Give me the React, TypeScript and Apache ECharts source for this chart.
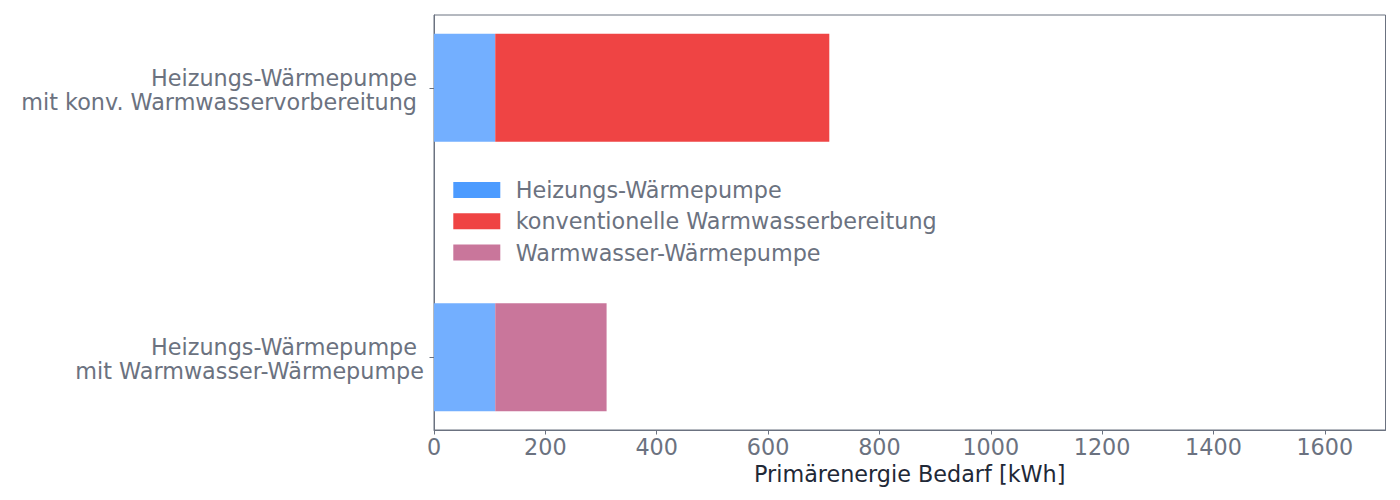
import React, { useEffect, useRef } from "react";
import * as echarts from "echarts";

// bottom-to-top order of the y axis
const categories: string[][] = [
  ["Heizungs-Wärmepumpe", "mit Warmwasser-Wärmepumpe"],
  ["Heizungs-Wärmepumpe", "mit konv. Warmwasservorbereitung"],
];
const heatPump = [110, 110];
const conventional = [0, 600];
const waterHeatPump = [200, 0];
const seriesNames = [
  "Heizungs-Wärmepumpe",
  "konventionelle Warmwasserbereitung",
  "Warmwasser-Wärmepumpe",
];
const xTicks = [0, 200, 400, 600, 800, 1000, 1200, 1400, 1600];
const xMax = 1709;
const xTitle = "Primärenergie Bedarf [kWh]";

const barColors = ["#73afff", "#ef4444", "#c9769b"];
const legendColors = ["#4c9bff", "#ef4444", "#c9769b"];
const FONT = "DejaVu Sans";
const GRAY = "#6b7280";
const AXIS_FS = 22.3;

export default function App() {
  const ref = useRef<HTMLDivElement>(null);
  useEffect(() => {
    if (!ref.current) return;
    const chart = echarts.init(ref.current, null, { renderer: "svg" });

    const segs: number[][][] = [[], [], []];
    for (let i = 0; i < categories.length; i++) {
      let start = 0;
      const vals = [heatPump[i], conventional[i], waterHeatPump[i]];
      vals.forEach((v, k) => {
        if (v > 0) {
          segs[k].push([i, start, start + v]);
          start += v;
        }
      });
    }

    const makeSeries = (k: number) => ({
      type: "custom",
      name: seriesNames[k],
      itemStyle: { color: barColors[k] },
      encode: { x: [1, 2], y: 0 },
      data: segs[k],
      renderItem: (params: any, api: any) => {
        const y = api.value(0);
        const p0 = api.coord([api.value(1), y]);
        const p1 = api.coord([api.value(2), y]);
        const h = api.size([0, 0.4])[1];
        return {
          type: "rect",
          shape: { x: p0[0], y: p0[1] - h / 2, width: p1[0] - p0[0], height: h },
          style: { fill: barColors[k] },
        };
      },
    });

    chart.setOption({
      animation: false,
      grid: {
        left: 434,
        top: 15,
        right: 14.5,
        bottom: 70,
        show: true,
        borderColor: GRAY,
        borderWidth: 1,
        backgroundColor: "transparent",
      },
      legend: {
        orient: "vertical",
        left: 453.3,
        top: 179,
        padding: 0,
        itemWidth: 47,
        itemHeight: 16,
        itemGap: 9.3,
        icon: "rect",
        data: seriesNames.map((n, k) => ({ name: n, itemStyle: { color: legendColors[k] } })),
        textStyle: {
          fontFamily: FONT,
          fontSize: AXIS_FS,
          color: GRAY,
          padding: [0, 0, 0, 10.4],
        },
      },
      xAxis: {
        type: "value",
        min: 0,
        max: xMax,
        interval: 200,
        axisLine: { show: true, onZero: false, lineStyle: { color: GRAY, width: 1 } },
        axisTick: { show: true, length: 4.5, lineStyle: { color: GRAY }, customValues: xTicks },
        axisLabel: {
          customValues: xTicks,
          margin: 6,
          fontFamily: FONT,
          fontSize: AXIS_FS,
          color: GRAY,
          formatter: (v: number) => String(v),
        },
        splitLine: { show: false },
        name: xTitle,
        nameLocation: "middle",
        nameGap: 31,
        nameTextStyle: { fontFamily: FONT, fontSize: AXIS_FS, color: "#1f2937" },
      },
      yAxis: {
        type: "value",
        min: -0.27,
        max: 1.27,
        axisLine: { show: true, onZero: false, lineStyle: { color: GRAY, width: 1 } },
        axisTick: { show: true, length: 4.5, lineStyle: { color: GRAY }, customValues: [0, 1] },
        splitLine: { show: false },
        axisLabel: {
          customValues: [0, 1],
          margin: 10,
          padding: [4, 0, 0, 0],
          fontFamily: FONT,
          fontSize: AXIS_FS,
          color: GRAY,
          lineHeight: 24,
          formatter: (v: number) => {
            const idx = Math.round(v);
            const lines = categories[idx];
            if (!lines) return "";
            if (idx === 0) return `{p|${lines[0]}}\n{n|${lines[1]}}`;
            return `{p|${lines[0]}}\n{p|${lines[1]}}`;
          },
          rich: {
            p: { fontFamily: FONT, fontSize: AXIS_FS, color: GRAY, lineHeight: 24, padding: [0, 7, 0, 0] },
            n: { fontFamily: FONT, fontSize: AXIS_FS, color: GRAY, lineHeight: 24 },
          },
        },
      },
      series: [0, 1, 2].map(makeSeries),
    });
    return () => chart.dispose();
  }, []);
  return (
    <div
      ref={ref}
      style={{ position: "fixed", left: 0, top: 0, width: 1400, height: 500, background: "#fff" }}
    />
  );
}
